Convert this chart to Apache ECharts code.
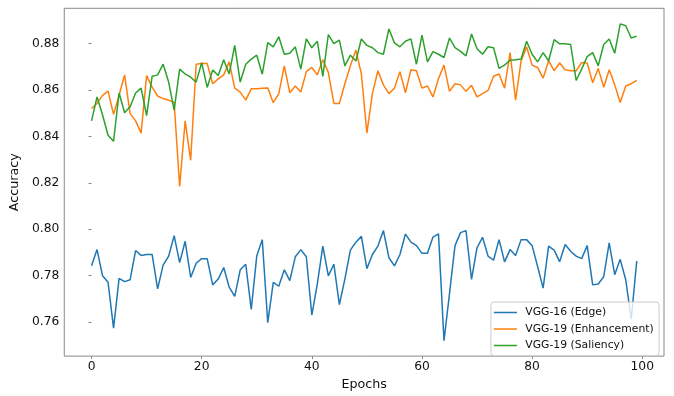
<!DOCTYPE html>
<html>
<head>
<meta charset="utf-8">
<script src="https://cdn.jsdelivr.net/npm/echarts@6/dist/echarts.min.js"></script>
<style>html,body{margin:0;padding:0;background:#fff}#c{width:674px;height:396px}</style>
</head>
<body>
<div id="c"></div>
<script>
var seriesNames = ['VGG-16 (Edge)', 'VGG-19 (Enhancement)', 'VGG-19 (Saliency)'];
var xTicks = [0, 20, 40, 60, 80, 100];
var yTicks = [0.76, 0.78, 0.80, 0.82, 0.84, 0.86, 0.88];
var edge = [0.7842,0.7912,0.7799,0.7771,0.7573,0.7788,0.7774,0.7782,0.7908,0.7887,
0.7891,0.7891,0.7743,0.7845,0.7884,0.7972,0.7856,0.7948,0.7792,0.7853,
0.7873,0.7873,0.7760,0.7785,0.7835,0.7750,0.7710,0.7825,0.7849,0.7654,
0.7884,0.7955,0.7597,0.7771,0.7754,0.7825,0.7778,0.7881,0.7912,0.7881,
0.7630,0.7764,0.7927,0.7799,0.7849,0.7675,0.7785,0.7910,0.7944,0.7969,
0.7830,0.7891,0.7927,0.7994,0.7877,0.7842,0.7891,0.7979,0.7944,0.7929,
0.7896,0.7896,0.7966,0.7980,0.7519,0.7722,0.7929,0.7985,0.7994,0.7784,
0.7920,0.7965,0.7884,0.7866,0.7955,0.7859,0.7912,0.7887,0.7955,0.7955,
0.7929,0.7839,0.7746,0.7927,0.7910,0.7860,0.7934,0.7905,0.7884,0.7873,
0.7929,0.7760,0.7764,0.7795,0.7941,0.7804,0.7870,0.7782,0.7612,0.7863];
var enhancement = [0.8520,0.8542,0.8577,0.8595,0.8495,0.8577,0.8665,0.8499,0.8467,0.8414,
0.8662,0.8612,0.8574,0.8563,0.8556,0.8546,0.8184,0.8467,0.8297,0.8711,
0.8714,0.8714,0.8627,0.8648,0.8665,0.8721,0.8608,0.8591,0.8556,0.8605,
0.8605,0.8607,0.8609,0.8545,0.8584,0.8704,0.8588,0.8617,0.8591,0.8679,
0.8697,0.8665,0.8730,0.8676,0.8542,0.8542,0.8627,0.8704,0.8772,0.8669,
0.8414,0.8584,0.8683,0.8622,0.8584,0.8608,0.8679,0.8588,0.8687,0.8683,
0.8608,0.8617,0.8570,0.8648,0.8707,0.8594,0.8627,0.8622,0.8594,0.8620,
0.8570,0.8584,0.8598,0.8659,0.8669,0.8608,0.8761,0.8556,0.8725,0.8786,
0.8707,0.8697,0.8651,0.8725,0.8683,0.8716,0.8687,0.8683,0.8683,0.8718,
0.8716,0.8631,0.8693,0.8612,0.8687,0.8622,0.8546,0.8617,0.8627,0.8641];
var saliency = [0.8467,0.8570,0.8492,0.8405,0.8379,0.8587,0.8502,0.8528,0.8587,0.8608,
0.8489,0.8659,0.8665,0.8711,0.8634,0.8513,0.8690,0.8669,0.8655,0.8634,
0.8718,0.8611,0.8686,0.8662,0.8730,0.8669,0.8792,0.8634,0.8711,0.8733,
0.8750,0.8668,0.8804,0.8786,0.8829,0.8754,0.8758,0.8786,0.8690,0.8820,
0.8782,0.8810,0.8659,0.8839,0.8800,0.8815,0.8704,0.8750,0.8725,0.8820,
0.8792,0.8782,0.8761,0.8754,0.8863,0.8803,0.8786,0.8810,0.8820,0.8711,
0.8836,0.8721,0.8765,0.8754,0.8740,0.8824,0.8782,0.8766,0.8747,0.8841,
0.8778,0.8754,0.8786,0.8782,0.8693,0.8707,0.8728,0.8730,0.8733,0.8810,
0.8754,0.8721,0.8761,0.8725,0.8817,0.8799,0.8799,0.8796,0.8641,0.8690,
0.8744,0.8761,0.8704,0.8796,0.8820,0.8758,0.8885,0.8877,0.8824,0.8832];

var colors = ['#1f77b4', '#ff7f0e', '#2ca02c'];
var font = 'DejaVu Sans';
function pairs(arr) { return arr.map(function (v, i) { return [i, v]; }); }
var allData = [edge, enhancement, saliency];

var chart = echarts.init(document.getElementById('c'), null, {renderer: 'canvas'});
chart.setOption({
  animation: false,
  backgroundColor: '#fff',
  grid: {left: 59.3, right: 10, top: 8.3, bottom: 34.3, show: true, borderColor: '#888', borderWidth: 1, backgroundColor: 'transparent'},
  xAxis: {
    type: 'value', min: -4.95, max: 103.95,
    name: 'Epochs', nameLocation: 'middle', nameGap: 15,
    nameTextStyle: {fontFamily: font, fontSize: 12.7, color: '#111'},
    axisLine: {show: false},
    axisTick: {show: true, inside: false, length: 3, lineStyle: {color: '#888'}, customValues: xTicks},
    axisLabel: {customValues: xTicks, fontFamily: font, fontSize: 12.3, color: '#111', margin: 5},
    splitLine: {show: false}
  },
  yAxis: {
    type: 'value', min: 0.7453, max: 0.8952,
    name: 'Accuracy', nameLocation: 'middle', nameGap: 28, nameRotate: 90,
    nameTextStyle: {fontFamily: font, fontSize: 12.7, color: '#111'},
    axisLine: {show: false},
    axisTick: {show: true, inside: false, length: 3, lineStyle: {color: '#888'}, customValues: yTicks},
    axisLabel: {customValues: yTicks, fontFamily: font, fontSize: 12.3, color: '#111', margin: 5,
      formatter: function (v) { return v.toFixed(2); }},
    splitLine: {show: false}
  },
  legend: {
    orient: 'vertical', right: 15, bottom: 40.3,
    data: seriesNames,
    icon: 'path://M0,4.25H23V5.75H0Z M26.4,0L26.4,10',
    itemWidth: 26.4, itemHeight: 10, itemGap: 5.5,
    padding: [5, 5.3, 4.7, 3],
    backgroundColor: 'rgba(255,255,255,0.8)', borderColor: '#ccc', borderWidth: 1, borderRadius: 3,
    itemStyle: {borderWidth: 0},
    textStyle: {fontFamily: font, fontSize: 10.8, color: '#111'}
  },
  series: seriesNames.map(function (n, k) {
    return {
      name: n, type: 'line', data: pairs(allData[k]), showSymbol: false, symbol: 'none',
      lineStyle: {width: 1.5, color: colors[k]}, itemStyle: {color: colors[k]}, z: 2 + k
    };
  })
});
</script>
</body>
</html>
